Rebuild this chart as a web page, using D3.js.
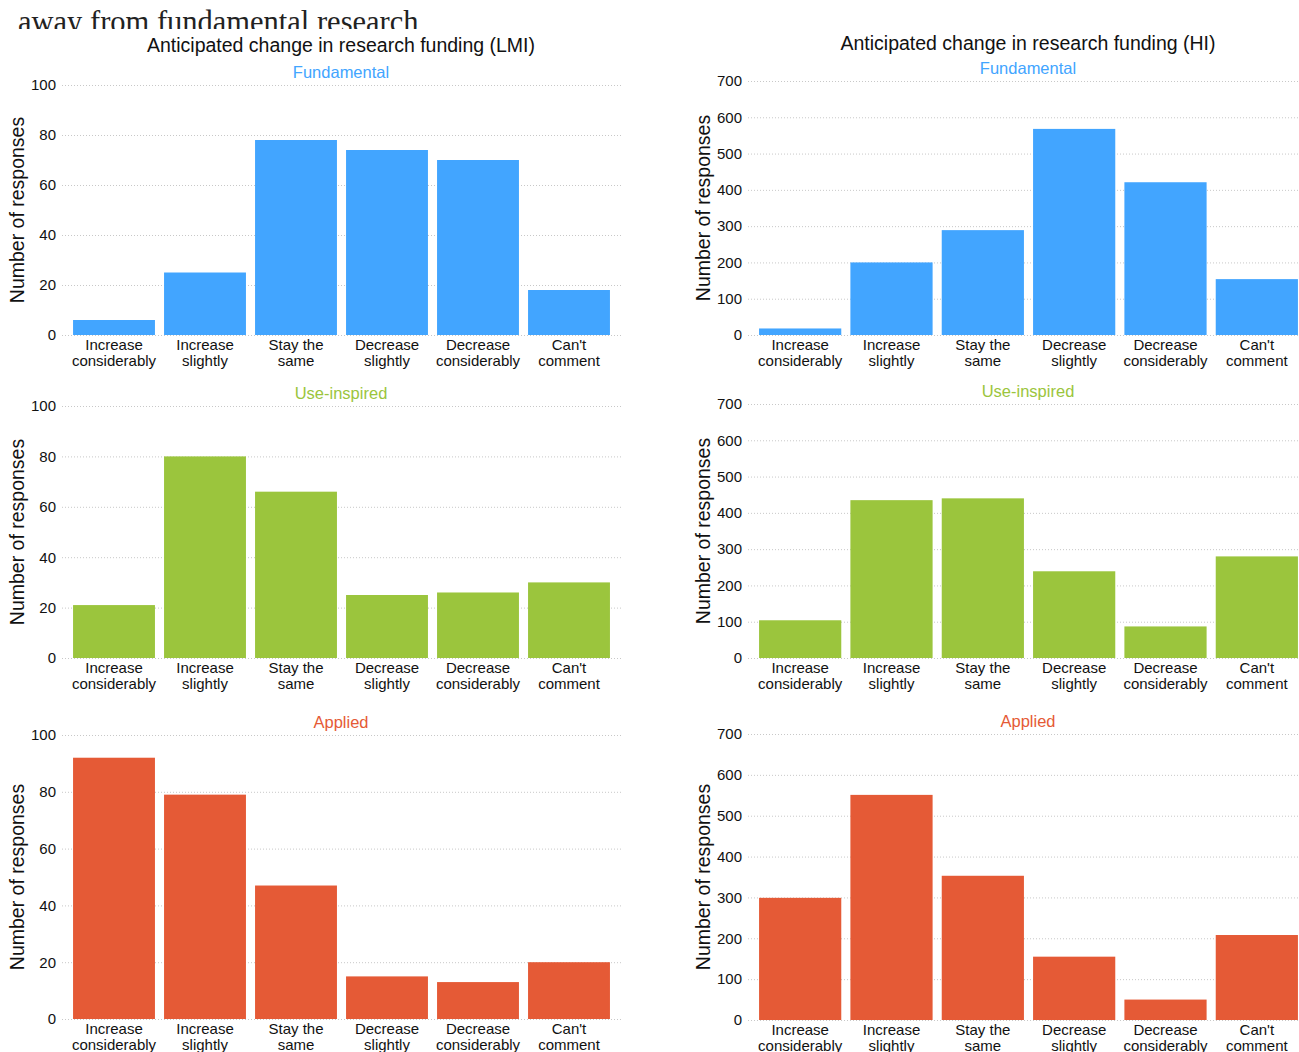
<!DOCTYPE html>
<html>
<head>
<meta charset="utf-8">
<script src="https://cdn.jsdelivr.net/npm/d3@7"></script>
<style>
  body { margin: 0; background: #fff; }
  svg { display: block; font-family: "Liberation Sans", Arial, sans-serif; }
  .grid line { stroke: #c8c8c8; stroke-dasharray: 1,2; }
  .grid text { font-size: 15px; fill: #111; }
  .xlab text { font-size: 15px; fill: #111; }
</style>
</head>
<body>
<div id="chart"></div>
<script>
var categories = [
  ["Increase", "considerably"],
  ["Increase", "slightly"],
  ["Stay the", "same"],
  ["Decrease", "slightly"],
  ["Decrease", "considerably"],
  ["Can't", "comment"]
];

var lmiFundamental = [6, 25, 78, 74, 70, 18];
var lmiUseInspired = [21, 80, 66, 25, 26, 30];
var lmiApplied = [92, 79, 47, 15, 13, 20];

var hiFundamental = [18, 200, 289, 568, 421, 154];
var hiUseInspired = [104, 435, 440, 239, 87, 280];
var hiApplied = [299, 551, 353, 155, 50, 208];

var lmiTicks = [0, 20, 40, 60, 80, 100];
var hiTicks = [0, 100, 200, 300, 400, 500, 600, 700];

var seriesNames = ["Fundamental", "Use-inspired", "Applied"];

var ColorFundamental = "#42a5ff";
var ColorUse = "#9bc53d";
var ColorApplied = "#e55a36";

var width = 1299, height = 1052;

var svg = d3.select("#chart").append("svg")
  .attr("width", width)
  .attr("height", height);

// leftover page text above the chart, clipped by the chart area
svg.append("text")
  .attr("x", 18)
  .attr("y", 32)
  .style("font-family", "'Liberation Serif', 'DejaVu Serif', serif")
  .style("font-size", "30.5px")
  .style("fill", "#222")
  .text("away from fundamental research");

svg.append("rect")
  .attr("x", 0).attr("y", 29)
  .attr("width", width).attr("height", height - 29)
  .attr("fill", "#fff");

var columns = [
  {
    title: "Anticipated change in research funding (LMI)",
    titleX: 341, titleY: 52,
    gridX: [62, 623], band: [68.5, 614.5], axisLabelX: 24,
    max: 100, ticks: lmiTicks,
    panels: [
      { values: lmiFundamental, y0: 335, y1: 85 },
      { values: lmiUseInspired, y0: 658, y1: 406 },
      { values: lmiApplied, y0: 1019, y1: 735 }
    ]
  },
  {
    title: "Anticipated change in research funding (HI)",
    titleX: 1028, titleY: 50,
    gridX: [748, 1310], band: [754.5, 1302.5], axisLabelX: 710,
    max: 700, ticks: hiTicks,
    panels: [
      { values: hiFundamental, y0: 335, y1: 81 },
      { values: hiUseInspired, y0: 658, y1: 404 },
      { values: hiApplied, y0: 1020, y1: 734 }
    ]
  }
];

var colors = [ColorFundamental, ColorUse, ColorApplied];

columns.forEach(function(col) {
  svg.append("text")
    .attr("x", col.titleX)
    .attr("y", col.titleY)
    .attr("text-anchor", "middle")
    .style("font-size", "19.5px")
    .style("fill", "#111")
    .text(col.title);

  var x = d3.scaleBand()
    .domain(d3.range(categories.length))
    .range(col.band)
    .paddingInner(0.1)
    .paddingOuter(0.05);

  col.panels.forEach(function(p, i) {
    var y = d3.scaleLinear()
      .domain([0, col.max])
      .range([p.y0, p.y1]);

    svg.append("text")
      .attr("x", col.titleX)
      .attr("y", p.y1 - 7)
      .attr("text-anchor", "middle")
      .style("font-size", "16.5px")
      .style("fill", colors[i])
      .text(seriesNames[i]);

    var grid = svg.append("g")
      .attr("class", "grid")
      .attr("transform", "translate(" + col.gridX[0] + ",0)")
      .call(d3.axisLeft(y)
        .tickValues(col.ticks)
        .tickSize(-(col.gridX[1] - col.gridX[0]))
        .tickPadding(6)
        .tickFormat(d3.format("d")));
    grid.select(".domain").remove();

    svg.append("g")
      .selectAll("rect")
      .data(p.values)
      .enter().append("rect")
      .attr("x", function(d, k) { return x(k); })
      .attr("y", function(d) { return y(d); })
      .attr("width", x.bandwidth())
      .attr("height", function(d) { return y(0) - y(d); })
      .attr("fill", colors[i]);

    var xa = svg.append("g")
      .attr("class", "xlab")
      .attr("transform", "translate(0," + p.y0 + ")")
      .call(d3.axisBottom(x).tickSize(0).tickFormat(""));
    xa.select(".domain").remove();
    xa.selectAll(".tick text").remove();
    xa.selectAll(".tick").append("text")
      .attr("text-anchor", "middle")
      .attr("fill", "#111")
      .selectAll("tspan")
      .data(function(k) { return categories[k]; })
      .enter().append("tspan")
      .attr("x", 0)
      .attr("y", function(d, j) { return 15 + j * 16; })
      .text(function(d) { return d; });

    svg.append("text")
      .attr("transform", "translate(" + col.axisLabelX + "," + ((p.y0 + p.y1) / 2) + ") rotate(-90)")
      .attr("text-anchor", "middle")
      .style("font-size", "19.5px")
      .style("fill", "#111")
      .text("Number of responses");
  });
});
</script>
</body>
</html>
